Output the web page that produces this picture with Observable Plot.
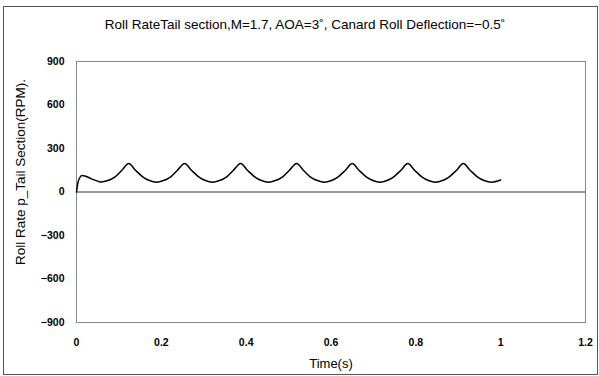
<!DOCTYPE html>
<html><head><meta charset="utf-8">
<script src="https://cdn.jsdelivr.net/npm/d3@7"></script>
<script src="https://cdn.jsdelivr.net/npm/@observablehq/plot@0.6"></script>
<style>
body{margin:0;background:#fff;}
#wrap{position:relative;width:599px;height:376px;}
#border{position:absolute;left:3px;top:6px;width:593px;height:367px;border:1px solid #555;pointer-events:none;}
</style></head>
<body><div id="wrap"><div id="chart"></div><div id="border"></div></div>
<script>
const title = "Roll RateTail section,M=1.7, AOA=3˚, Canard Roll Deflection=−0.5˚";
const xLabel = "Time(s)";
const yLabel = "Roll Rate p_Tail Section(RPM).";
const xTicks = [0, 0.2, 0.4, 0.6, 0.8, 1, 1.2];
const yTicks = [-900, -600, -300, 0, 300, 600, 900];
const times = [
  0, 0.003, 0.007, 0.013, 0.020, 0.030, 0.040, 0.050, 0.058, 0.074, 0.091, 0.107, 0.123,
  0.139, 0.156, 0.172, 0.189, 0.205, 0.222, 0.238, 0.255,
  0.271, 0.288, 0.304, 0.321, 0.337, 0.354, 0.370, 0.387,
  0.403, 0.420, 0.436, 0.453, 0.469, 0.486, 0.502, 0.519,
  0.535, 0.551, 0.568, 0.584, 0.601, 0.617, 0.634, 0.650,
  0.666, 0.683, 0.699, 0.715, 0.732, 0.748, 0.765, 0.781,
  0.797, 0.814, 0.830, 0.846, 0.863, 0.879, 0.896, 0.912,
  0.928, 0.945, 0.961, 0.978, 1.000
];
const rollRate = [
  0, 60, 95, 113, 110, 98, 85, 75, 69, 79, 105, 150, 196,
  150, 105, 79, 68, 79, 105, 150, 196,
  150, 105, 79, 68, 79, 105, 150, 196,
  150, 105, 79, 68, 79, 105, 150, 196,
  150, 105, 79, 68, 79, 105, 150, 196,
  150, 105, 79, 68, 79, 105, 150, 196,
  150, 105, 79, 68, 79, 105, 150, 196,
  150, 105, 79, 68, 83
];
const data = times.map((t, i) => ({t, p: rollRate[i]}));
const font = "'Liberation Sans', Arial, sans-serif";
const chart = Plot.plot({
  width: 599,
  height: 376,
  marginLeft: 76,
  marginRight: 14,
  marginTop: 61,
  marginBottom: 54,
  style: {fontFamily: font, fontSize: "10.5px", color: "#000", background: "#fff"},
  x: {domain: [0, 1.2], label: null},
  y: {domain: [-900, 900], label: null},
  marks: [
    Plot.axisX({ticks: xTicks, tickFormat: d => String(d), tickSize: 0, tickPadding: 16, fontWeight: "bold", label: null}),
    Plot.axisY({ticks: yTicks, tickFormat: d3.format("d"), tickSize: 0, tickPadding: 12, fontWeight: "bold", label: null}),
    Plot.frame({stroke: "#888"}),
    Plot.ruleY([0], {stroke: "#333", strokeWidth: 1}),
    Plot.line(data, {x: "t", y: "p", stroke: "#000", strokeWidth: 1.5, curve: "monotone-x"}),
    Plot.text([title], {frameAnchor: "top", lineAnchor: "middle", dy: -37, dx: -26, fontSize: 13.5, fill: "#000", text: d => d}),
    Plot.text([xLabel], {frameAnchor: "bottom", lineAnchor: "middle", dy: 41, fontSize: 13, fill: "#000", text: d => d}),
    Plot.text([yLabel], {frameAnchor: "left", textAnchor: "middle", lineAnchor: "middle", rotate: -90, dx: -56, dy: -20, fontSize: 13.5, fill: "#000", text: d => d})
  ]
});
document.getElementById("chart").appendChild(chart);
</script>
</body></html>
